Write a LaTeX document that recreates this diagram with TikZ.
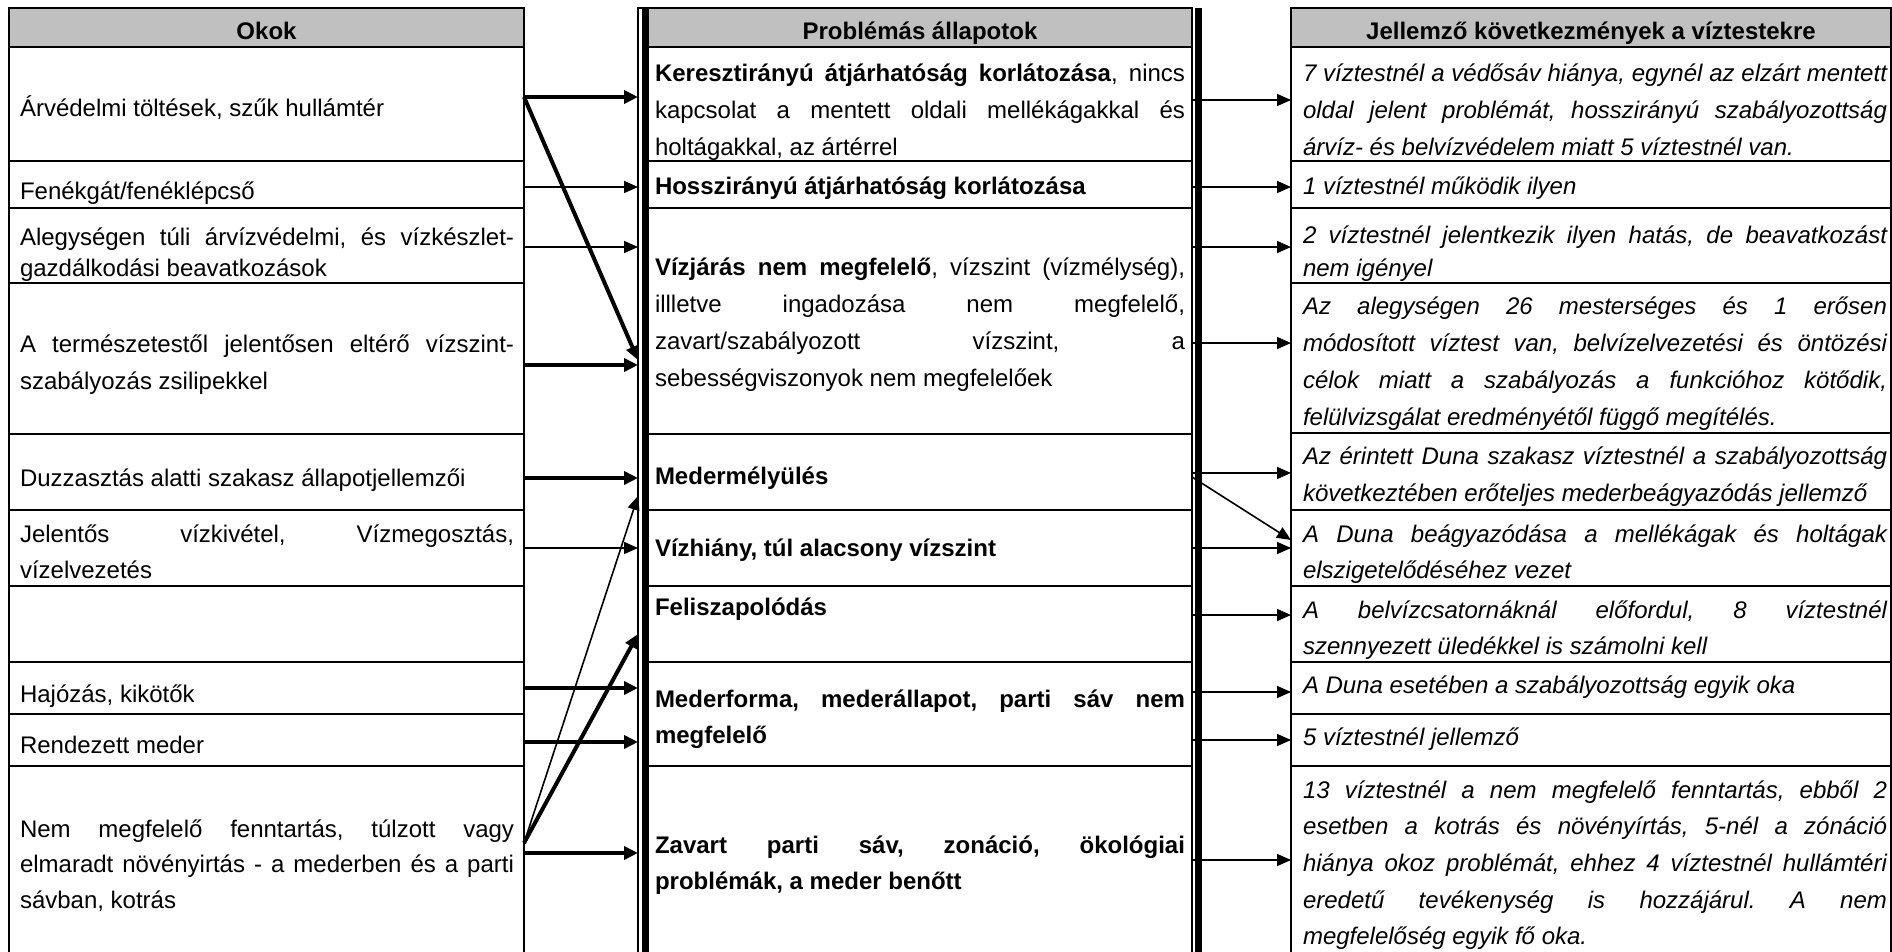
\documentclass[tikz,border=0pt]{standalone}
\usepackage{fontspec}
\setmainfont{Liberation Sans}
\usetikzlibrary{arrows.meta}
\tolerance=10000 \hbadness=10000 \hyphenpenalty=10000
\frenchspacing
\definecolor{headgray}{RGB}{192,192,192}

\begin{document}
\begin{tikzpicture}[x=0.5pt, y=-0.5pt,
  every node/.style={inner sep=0pt, outer sep=0pt},
  cell/.style={draw, line width=1pt, anchor=north west},
  head/.style={cell, fill=headgray, font=\fontsize{12}{18.35}\selectfont\bfseries, text height=12.5pt, text depth=0pt, minimum height=19.5pt},
  lcell/.style={cell, minimum width=257.5pt},
  mcell/.style={cell, minimum width=272pt},
  rcell/.style={cell, minimum width=300pt},
  txt/.style={anchor=base west, align=justify, font=\fontsize{12}{18.35}\selectfont},
  ltxt/.style={txt, text width=247pt},
  mtxt/.style={txt, text width=265pt},
  rtxt/.style={txt, text width=292pt, font=\fontsize{12}{18.35}\selectfont\itshape},
  link/.style={line width=0.8pt, -{Triangle[length=7pt,width=6pt]}},
  biglink/.style={line width=2pt, -{Triangle[length=7pt,width=6.5pt]}}]
\useasboundingbox (0,0) rectangle (1892,952);

% Okok
\node[head, lcell] (hl) at (9,8) {Okok};
\node[lcell, minimum height=57pt]   (l1)  at (9,47)  {};
\node[lcell, minimum height=23.5pt] (l2)  at (9,161) {};
\node[lcell, minimum height=37.5pt] (l3)  at (9,208) {};
\node[lcell, minimum height=75.5pt] (l4)  at (9,283) {};
\node[lcell, minimum height=38pt]   (l5)  at (9,434) {};
\node[lcell, minimum height=38pt]   (l6)  at (9,510) {};
\node[lcell, minimum height=38pt]   (l7)  at (9,586) {};
\node[lcell, minimum height=26pt]   (l8)  at (9,662) {};
\node[lcell, minimum height=26pt]   (l9)  at (9,714) {};
\node[lcell, minimum height=97pt]   (l10) at (9,766) {};

\node[ltxt] (tl1) at (20,117) {Árvédelmi töltések, szűk hullámtér};
\node[ltxt] (tl2) at (20,200) {Fenékgát/fenéklépcső};
\node[ltxt, font=\fontsize{12}{15.5}\selectfont] (tl3) at (20,246) {Alegységen túli árvízvédelmi, és vízkészlet-\linebreak gazdálkodási beavatkozások};
\node[ltxt] (tl4) at (20,353) {A természetestől jelentősen eltérő vízszint-\linebreak szabályozás zsilipekkel};
\node[ltxt] (tl5) at (20,487) {Duzzasztás alatti szakasz állapotjellemzői};
\node[ltxt] (tl6) at (20,542) {Jelentős vízkivétel, Vízmegosztás,\linebreak vízelvezetés};
\node[ltxt] (tl8) at (20,702) {Hajózás, kikötők};
\node[ltxt] (tl9) at (20,753) {Rendezett meder};
\node[ltxt, font=\fontsize{12}{17.75}\selectfont] (tl10) at (20,837) {Nem megfelelő fenntartás, túlzott vagy\linebreak elmaradt növényirtás - a mederben és a parti\linebreak sávban, kotrás};

% Problemas allapotok
\node[draw, line width=0.75pt, anchor=north west, minimum width=277pt, minimum height=476pt] (prob) at (638,8) {};
\draw[line width=3pt] ([xshift=3.5pt]prob.north west) -- ([xshift=3.5pt]prob.south west);
\draw[line width=3.5pt] ([xshift=3.25pt]prob.north east) -- ([xshift=3.25pt]prob.south east);
\node[head, mcell] (hm) at (648,8) {Problémás állapotok};
\node[mcell, minimum height=57pt]   (m1) at (648,47)  {};
\node[mcell, minimum height=23.5pt] (m2) at (648,161) {};
\node[mcell, minimum height=113pt]  (m3) at (648,208) {};
\node[mcell, minimum height=38pt]   (m4) at (648,434) {};
\node[mcell, minimum height=38pt]   (m5) at (648,510) {};
\node[mcell, minimum height=38pt]   (m6) at (648,586) {};
\node[mcell, minimum height=52pt]   (m7) at (648,662) {};
\node[mcell, minimum height=97pt]   (m8) at (648,766) {};

\node[mtxt] (tm1) at (655,82) {\textbf{Keresztirányú átjárhatóság korlátozása}, nincs\linebreak kapcsolat a mentett oldali mellékágakkal és\linebreak holtágakkal, az ártérrel};
\node[mtxt] (tm2) at (655,195) {\textbf{Hosszirányú átjárhatóság korlátozása}};
\node[mtxt] (tm3) at (655,276) {\textbf{Vízjárás nem megfelelő}, vízszint (vízmélység),\linebreak illletve ingadozása nem megfelelő,\linebreak zavart/szabályozott vízszint, a\linebreak sebességviszonyok nem megfelelőek};
\node[mtxt] (tm4) at (655,484) {\textbf{Medermélyülés}};
\node[mtxt] (tm5) at (655,556) {\textbf{Vízhiány, túl alacsony vízszint}};
\node[mtxt] (tm6) at (655,615) {\textbf{Feliszapolódás}};
\node[mtxt] (tm7) at (655,707) {\textbf{Mederforma, mederállapot, parti sáv nem\linebreak megfelelő}};
\node[mtxt] (tm8) at (655,853) {\textbf{Zavart parti sáv, zonáció, ökológiai\linebreak problémák, a meder benőtt}};

% Jellemzo kovetkezmenyek
\node[head, rcell] (hr) at (1291,8) {Jellemző következmények a víztestekre};
\node[rcell, minimum height=57pt]   (r1)  at (1291,47)  {};
\node[rcell, minimum height=23.5pt] (r2)  at (1291,161) {};
\node[rcell, minimum height=37.5pt] (r3)  at (1291,208) {};
\node[rcell, minimum height=75pt]   (r4)  at (1291,283) {};
\node[rcell, minimum height=38.5pt] (r5)  at (1291,433) {};
\node[rcell, minimum height=38pt]   (r6)  at (1291,510) {};
\node[rcell, minimum height=38pt]   (r7)  at (1291,586) {};
\node[rcell, minimum height=26pt]   (r8)  at (1291,662) {};
\node[rcell, minimum height=26pt]   (r9)  at (1291,714) {};
\node[rcell, minimum height=97pt]   (r10) at (1291,766) {};

\node[rtxt] (tr1) at (1303,82) {7 víztestnél a védősáv hiánya, egynél az elzárt mentett\linebreak oldal jelent problémát, hosszirányú szabályozottság\linebreak árvíz- és belvízvédelem miatt 5 víztestnél van.};
\node[rtxt] (tr2) at (1303,195) {1 víztestnél működik ilyen};
\node[rtxt, font=\fontsize{12}{16.5}\selectfont\itshape] (tr3) at (1303,244) {2 víztestnél jelentkezik ilyen hatás, de beavatkozást\linebreak nem igényel};
\node[rtxt] (tr4) at (1303,315) {Az alegységen 26 mesterséges és 1 erősen\linebreak módosított víztest van, belvízelvezetési és öntözési\linebreak célok miatt a szabályozás a funkcióhoz kötődik,\linebreak felülvizsgálat eredményétől függő megítélés.};
\node[rtxt] (tr5) at (1303,465) {Az érintett Duna szakasz víztestnél a szabályozottság\linebreak következtében erőteljes mederbeágyazódás jellemző};
\node[rtxt] (tr6) at (1303,542) {A Duna beágyazódása a mellékágak és holtágak\linebreak elszigetelődéséhez vezet};
\node[rtxt] (tr7) at (1303,618) {A belvízcsatornáknál előfordul, 8 víztestnél\linebreak szennyezett üledékkel is számolni kell};
\node[rtxt] (tr8) at (1303,693) {A Duna esetében a szabályozottság egyik oka};
\node[rtxt] (tr9) at (1303,745) {5 víztestnél jellemző};
\node[rtxt] (tr10) at (1303,798) {13 víztestnél a nem megfelelő fenntartás, ebből 2\linebreak esetben a kotrás és növényírtás, 5-nél a zónáció\linebreak hiánya okoz problémát, ehhez 4 víztestnél hullámtéri\linebreak eredetű tevékenység is hozzájárul. A nem\linebreak megfelelőség egyik fő oka.};

% okok -> allapotok
\draw[biglink] (l1.east |- 0,97) -- (prob.west |- 0,97);
\draw[biglink] (l1.east |- 0,97) -- (prob.west |- 0,360);
\draw[link] (l2.east |- 0,187) -- (prob.west |- 0,187);
\draw[link] (l3.east |- 0,247) -- (prob.west |- 0,247);
\draw[biglink] (l4.east |- 0,365) -- (prob.west |- 0,365);
\draw[biglink] (l5.east |- 0,478) -- (prob.west |- 0,478);
\draw[link] (l6.east |- 0,548) -- (prob.west |- 0,548);
\draw[biglink] (l8.east |- 0,688) -- (prob.west |- 0,688);
\draw[biglink] (l9.east |- 0,742) -- (prob.west |- 0,742);
\draw[biglink] (l10.east |- 0,853) -- (prob.west |- 0,853);
\draw[link] (l10.east |- 0,843) -- (prob.west |- 0,496);
\draw[biglink] (l10.east |- 0,843) -- (prob.west |- 0,634);

% allapotok -> kovetkezmenyek
\draw[link] (prob.east |- 0,100) -- (r1.west |- 0,100);
\draw[link] (prob.east |- 0,187) -- (r2.west |- 0,187);
\draw[link] (prob.east |- 0,247) -- (r3.west |- 0,247);
\draw[link] (prob.east |- 0,343) -- (r4.west |- 0,343);
\draw[link] (prob.east |- 0,473) -- (r5.west |- 0,473);
\draw[link] (prob.east |- 0,477) -- (r6.west |- 0,540);
\draw[link] (prob.east |- 0,548) -- (r6.west |- 0,548);
\draw[link] (prob.east |- 0,615) -- (r7.west |- 0,615);
\draw[link] (prob.east |- 0,692) -- (r8.west |- 0,692);
\draw[link] (prob.east |- 0,740) -- (r9.west |- 0,740);
\draw[link] (prob.east |- 0,860) -- (r10.west |- 0,860);

\end{tikzpicture}
\end{document}
